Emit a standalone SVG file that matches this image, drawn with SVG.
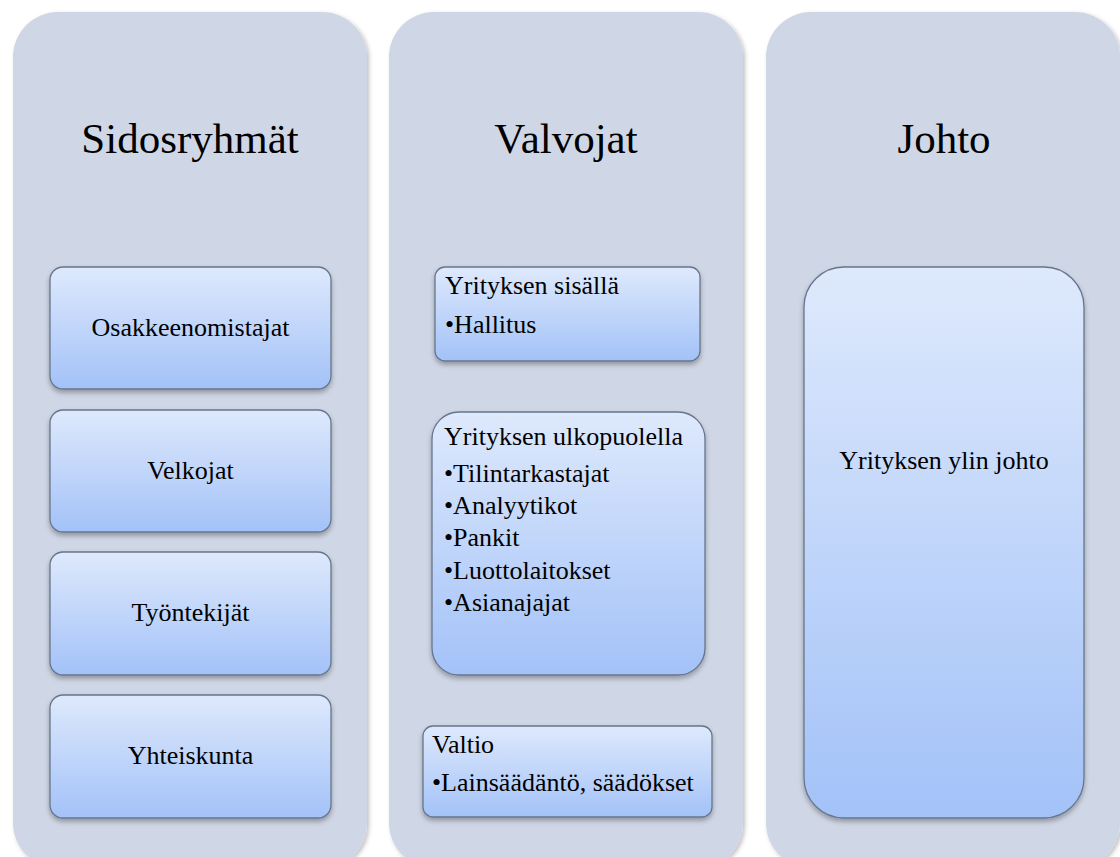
<svg xmlns="http://www.w3.org/2000/svg" width="1120" height="857" viewBox="0 0 1120 857">
<defs>
<linearGradient id="bg" x1="0" y1="0" x2="0" y2="1">
<stop offset="0" stop-color="#DEE9FC"/>
<stop offset="1" stop-color="#A3C2F8"/>
</linearGradient>
<filter id="cs" x="-5%" y="-5%" width="110%" height="110%">
<feDropShadow dx="2" dy="2" stdDeviation="2" flood-color="#000" flood-opacity="0.25"/>
</filter>
<filter id="bs" x="-5%" y="-5%" width="110%" height="115%">
<feDropShadow dx="0" dy="3" stdDeviation="2.5" flood-color="#000" flood-opacity="0.3"/>
</filter>
</defs>
<style>
.col{fill:#CFD6E5;filter:url(#cs)}
.box{fill:url(#bg);stroke:#66758C;stroke-width:1.3;filter:url(#bs)}
.t{font-family:"Liberation Serif","Times New Roman",serif;fill:#000}
.title{font-size:43px;text-anchor:middle}
.lbl{font-size:26px}
.c{text-anchor:middle}
</style>
<rect width="1120" height="857" fill="#FFFFFF"/>
<g id="col-sidosryhmat">
<rect class="col" x="13" y="12" width="354" height="856" rx="45"/>
<text class="t title" x="190" y="153">Sidosryhmät</text>
</g>
<g id="col-valvojat">
<rect class="col" x="389" y="12" width="354" height="856" rx="45"/>
<text class="t title" x="566" y="153">Valvojat</text>
</g>
<g id="col-johto">
<rect class="col" x="766" y="12" width="354" height="856" rx="45"/>
<text class="t title" x="944" y="153">Johto</text>
</g>
<g id="n-osakkeenomistajat">
<rect class="box" x="50" y="267" width="281" height="122" rx="13"/>
<text class="t lbl c" x="190.5" y="336">Osakkeenomistajat</text>
</g>
<g id="n-velkojat">
<rect class="box" x="50" y="410" width="281" height="122" rx="13"/>
<text class="t lbl c" x="190.5" y="479">Velkojat</text>
</g>
<g id="n-tyontekijat">
<rect class="box" x="50" y="552" width="281" height="123" rx="13"/>
<text class="t lbl c" x="190.5" y="621">Työntekijät</text>
</g>
<g id="n-yhteiskunta">
<rect class="box" x="50" y="695" width="281" height="123" rx="13"/>
<text class="t lbl c" x="190.5" y="764">Yhteiskunta</text>
</g>
<g id="n-sisalla">
<rect class="box" x="435" y="267" width="265" height="94" rx="10"/>
<text class="t lbl" x="445" y="294">Yrityksen sisällä</text>
<text class="t lbl" x="445" y="333">•Hallitus</text>
</g>
<g id="n-ulkopuolella">
<rect class="box" x="432" y="412" width="273" height="263" rx="27"/>
<text class="t lbl" x="444" y="445">Yrityksen ulkopuolella</text>
<text class="t lbl" x="444" y="482">•Tilintarkastajat</text>
<text class="t lbl" x="444" y="514">•Analyytikot</text>
<text class="t lbl" x="444" y="546">•Pankit</text>
<text class="t lbl" x="444" y="579">•Luottolaitokset</text>
<text class="t lbl" x="444" y="611">•Asianajajat</text>
</g>
<g id="n-valtio">
<rect class="box" x="423" y="726" width="289" height="91" rx="10"/>
<text class="t lbl" x="432" y="753">Valtio</text>
<text class="t lbl" x="432" y="791">•Lainsäädäntö, säädökset</text>
</g>
<g id="n-ylin-johto">
<rect class="box" x="804" y="267" width="280" height="551" rx="40"/>
<text class="t lbl c" x="944" y="469">Yrityksen ylin johto</text>
</g>
<g id="connectors"/>
</svg>
